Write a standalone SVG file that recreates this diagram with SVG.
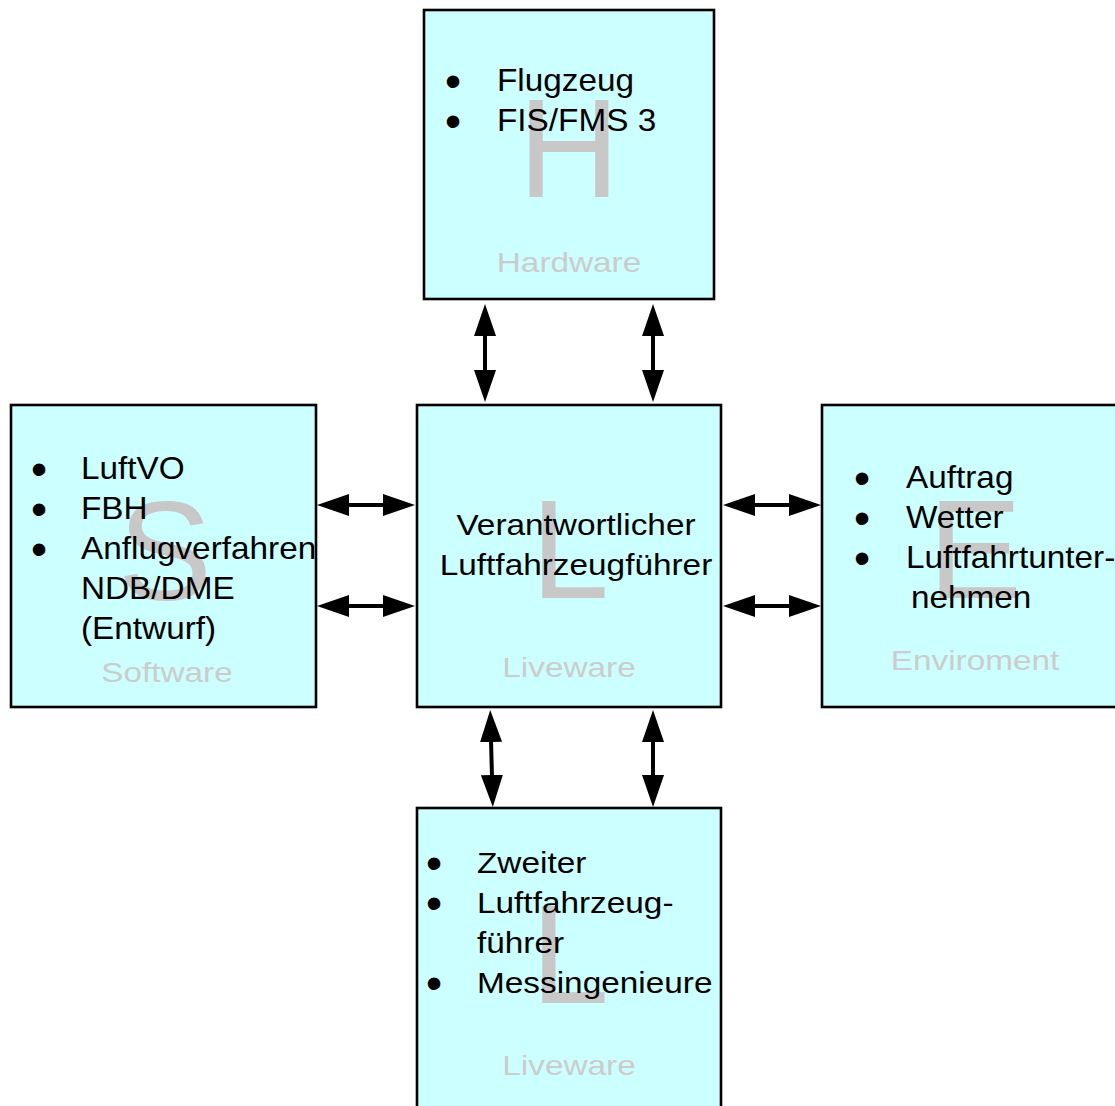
<svg xmlns="http://www.w3.org/2000/svg" width="1115" height="1106" viewBox="0 0 1115 1106">
  <style>
    .box { fill: #ccffff; stroke: #000000; stroke-width: 2.6; }
    .big { font-family: "Liberation Sans", Arial, sans-serif; font-size: 141px; fill: #c8c8c8; text-anchor: middle; }
    .lbl { font-family: "Liberation Sans", Arial, sans-serif; font-size: 28px; fill: #cccccc; text-anchor: middle; }
    .txt { font-family: "Liberation Sans", Arial, sans-serif; font-size: 31px; fill: #000000; }
    .txs { font-family: "Liberation Sans", Arial, sans-serif; font-size: 29px; fill: #000000; }
    .ctr { text-anchor: middle; }
    .bul { font-family: "Liberation Sans", Arial, sans-serif; font-size: 46px; fill: #000000; text-anchor: middle; }
    .conn line { stroke: #000000; stroke-width: 4; marker-start: url(#ah); marker-end: url(#ah); }
  </style>
  <defs>
    <marker id="ah" viewBox="0 0 32 22" refX="2" refY="11" markerWidth="32" markerHeight="22" markerUnits="userSpaceOnUse" orient="auto-start-reverse">
      <path d="M0,0 L32,11 L0,22 Z" fill="#000000"/>
    </marker>
  </defs>
  <rect width="1115" height="1106" fill="#ffffff"/>

  <g id="hardware">
    <rect class="box" x="424" y="10" width="290" height="289"/>
    <text class="big" x="569" y="197">H</text>
    <text class="lbl" transform="matrix(1.19 0 0 1 569 272)" x="0" y="0">Hardware</text>
    <text class="bul" x="453" y="97"><tspan x="453" y="97">•</tspan><tspan x="453" y="137">•</tspan></text>
    <text class="txt" transform="matrix(1.075 0 0 1 497 91)" x="0" y="0"><tspan x="0" y="0">Flugzeug</tspan><tspan x="0" y="40">FIS/FMS 3</tspan></text>
  </g>

  <g id="software">
    <rect class="box" x="11" y="405" width="305" height="302"/>
    <text class="big" x="165" y="600">S</text>
    <text class="lbl" transform="matrix(1.19 0 0 1 167 682)" x="0" y="0">Software</text>
    <text class="bul" x="39" y="485"><tspan x="39" y="485">•</tspan><tspan x="39" y="525">•</tspan><tspan x="39" y="565">•</tspan></text>
    <text class="txt" transform="matrix(1.075 0 0 1 81 479)" x="0" y="0"><tspan x="0" y="0">LuftVO</tspan><tspan x="0" y="40">FBH</tspan><tspan x="0" y="80">Anflugverfahren</tspan><tspan x="0" y="120">NDB/DME</tspan><tspan x="0" y="160">(Entwurf)</tspan></text>
  </g>

  <g id="liveware-center">
    <rect class="box" x="417" y="405" width="304" height="302"/>
    <text class="big" x="570" y="598">L</text>
    <text class="lbl" transform="matrix(1.19 0 0 1 569 677)" x="0" y="0">Liveware</text>
    <text class="txs ctr" transform="matrix(1.15 0 0 1 576 535)" x="0" y="0"><tspan x="0" y="0">Verantwortlicher</tspan><tspan x="0" y="40">Luftfahrzeugführer</tspan></text>
  </g>

  <g id="enviroment">
    <rect class="box" x="822" y="405" width="300" height="302"/>
    <text class="big" x="975" y="598">E</text>
    <text class="lbl" transform="matrix(1.19 0 0 1 975 670)" x="0" y="0">Enviroment</text>
    <text class="bul" x="862" y="494"><tspan x="862" y="494">•</tspan><tspan x="862" y="534">•</tspan><tspan x="862" y="574">•</tspan></text>
    <text class="txt" transform="matrix(1.075 0 0 1 906 488)" x="0" y="0"><tspan x="0" y="0">Auftrag</tspan><tspan x="0" y="40">Wetter</tspan><tspan x="0" y="80">Luftfahrtunter-</tspan></text>
    <text class="txt" transform="matrix(1.075 0 0 1 911 608)" x="0" y="0">nehmen</text>
  </g>

  <g id="liveware-bottom">
    <rect class="box" x="417" y="808" width="304" height="310"/>
    <text class="big" x="570" y="1003">L</text>
    <text class="lbl" transform="matrix(1.19 0 0 1 569 1075)" x="0" y="0">Liveware</text>
    <text class="bul" x="434" y="879"><tspan x="434" y="879">•</tspan><tspan x="434" y="919">•</tspan><tspan x="434" y="999">•</tspan></text>
    <text class="txs" transform="matrix(1.15 0 0 1 477 873)" x="0" y="0"><tspan x="0" y="0">Zweiter</tspan><tspan x="0" y="40">Luftfahrzeug-</tspan><tspan x="0" y="80">führer</tspan><tspan x="0" y="120">Messingenieure</tspan></text>
  </g>

  <g id="connectors" class="conn">
    <line x1="485" y1="334" x2="485" y2="372"/>
    <line x1="653" y1="334" x2="653" y2="372"/>
    <line x1="347" y1="505" x2="385" y2="505"/>
    <line x1="347" y1="606" x2="385" y2="606"/>
    <line x1="753" y1="505" x2="791" y2="505"/>
    <line x1="753" y1="606" x2="791" y2="606"/>
    <line x1="491" y1="740" x2="492" y2="777"/>
    <line x1="653" y1="740" x2="653" y2="777"/>
  </g>
</svg>
